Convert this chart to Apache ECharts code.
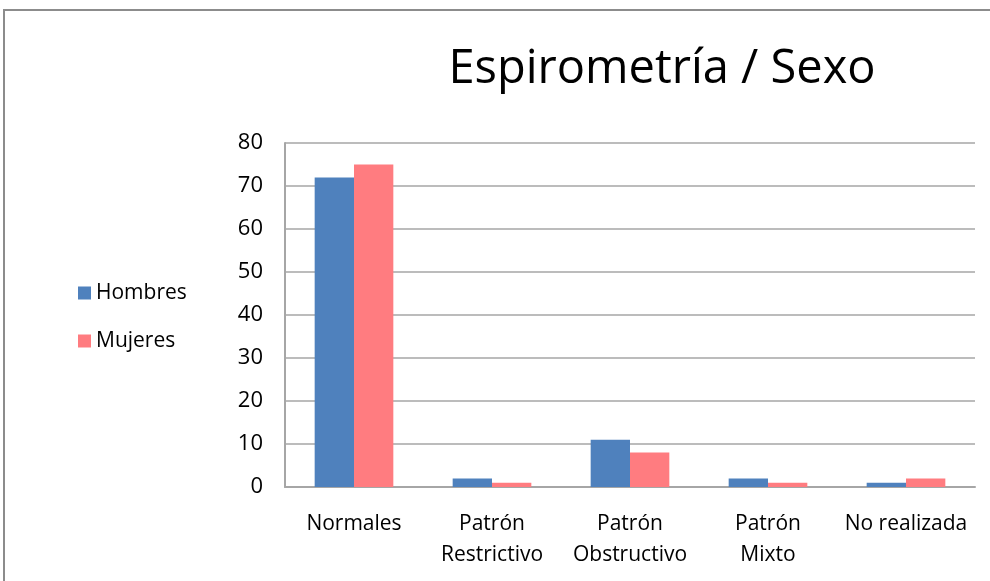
<!DOCTYPE html>
<html>
<head>
<meta charset="utf-8">
<script src="https://cdn.jsdelivr.net/npm/echarts@6/dist/echarts.min.js"></script>
<style>
  html, body { margin: 0; padding: 0; background: #fff; }
  #frame { position: absolute; left: 3px; top: 9px; width: 1000px; height: 600px; border: 2px solid #8c8c8c; box-sizing: border-box; }
  #chart { position: absolute; left: 0; top: 0; width: 990px; height: 581px; }
</style>
</head>
<body>
<div id="frame"></div>
<div id="chart"></div>
<script>
var categories = ['Normales', 'Patrón\nRestrictivo', 'Patrón\nObstructivo', 'Patrón\nMixto', 'No realizada'];
var hombres = [72, 2, 11, 2, 1];
var mujeres = [75, 1, 8, 1, 2];
var yTicks = [0, 80, 10];

var myChart = echarts.init(document.getElementById('chart'));
var font = 'Open Sans';
var option = {
    animation: false,
    title: {
        text: 'Espirometría / Sexo',
        left: 657,
        top: 41,
        textAlign: 'center',
        textStyle: { fontFamily: font, fontSize: 47, fontWeight: 'normal', color: '#000' }
    },
    legend: {
        orient: 'vertical',
        left: 73,
        top: 277,
        itemGap: 26,
        itemWidth: 13,
        itemHeight: 13,
        icon: 'rect',
        data: ['Hombres', 'Mujeres'],
        textStyle: { fontFamily: font, fontSize: 21, lineHeight: 22, color: '#000' }
    },
    grid: { left: 285, right: 15, top: 143, bottom: 94 },
    xAxis: {
        type: 'category',
        data: categories,
        axisLine: { lineStyle: { color: '#a6a6a6', width: 2 } },
        axisTick: { show: false },
        axisLabel: {
            fontFamily: font, fontSize: 21, color: '#000',
            margin: 22, lineHeight: 31, interval: 0
        }
    },
    yAxis: {
        type: 'value',
        min: yTicks[0],
        max: yTicks[1],
        interval: yTicks[2],
        axisLine: { show: true, lineStyle: { color: '#a6a6a6', width: 2 } },
        axisTick: { show: false },
        splitLine: { lineStyle: { color: '#a6a6a6', width: 1.5 } },
        axisLabel: { fontFamily: font, fontSize: 22, color: '#000', margin: 22 }
    },
    series: [{
        name: 'Hombres',
        type: 'bar',
        data: hombres,
        barGap: '0%',
        barCategoryGap: '43%',
        itemStyle: { color: '#4F81BD' }
    }, {
        name: 'Mujeres',
        type: 'bar',
        data: mujeres,
        itemStyle: { color: '#FF7C80' }
    }]
};
myChart.setOption(option);
</script>
</body>
</html>
